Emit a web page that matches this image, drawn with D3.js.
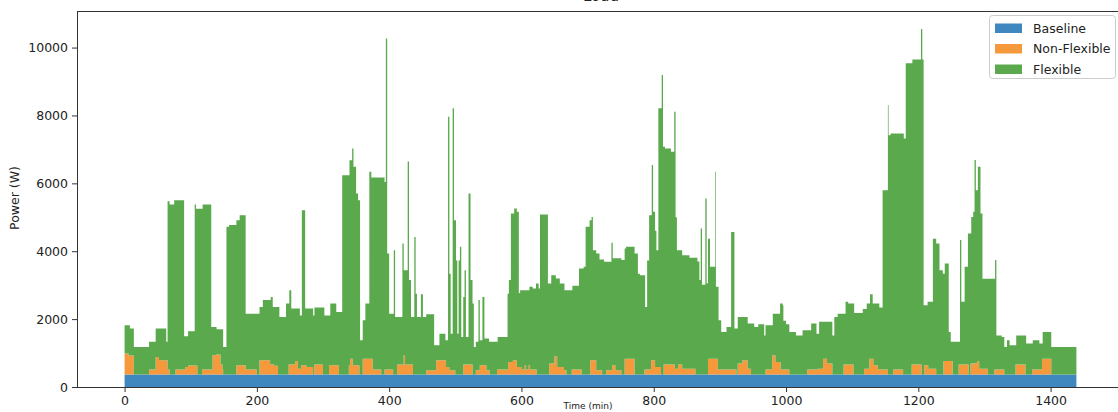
<!DOCTYPE html>
<html>
<head>
<meta charset="utf-8">
<script src="https://cdn.jsdelivr.net/npm/d3@7"></script>
<style>
  body { margin: 0; background: #fff; }
  text { font-family: "DejaVu Sans", sans-serif; }
</style>
</head>
<body>
<svg id="chart" width="1118" height="412"></svg>
<script>
// series names + colours (stack order, bottom first)
var seriesNames = ["Baseline", "Non-Flexible", "Flexible"];
var seriesColors = ["#3f88bf", "#f6993d", "#5aa94c"];

var lastMinute = 1439;
var xTicks = [0, 200, 400, 600, 800, 1000, 1200, 1400];
var yTicks = [0, 2000, 4000, 6000, 8000, 10000];

// [start minute, watts] - value holds until the next step
var baselineSteps = [[0, 365]];

var nonFlexSteps = [
  [0, 620], [6, 560], [14, 0], [37, 150], [47, 520], [52, 420], [65, 150], [68, 0],
  [77, 150], [92, 225], [96, 270], [110, 0], [117, 150], [133, 570], [138, 590], [145, 300],
  [148, 150], [149, 0], [169, 275], [183, 150], [200, 0], [204, 420], [220, 300], [226, 260],
  [232, 0], [248, 300], [258, 400], [262, 175], [267, 275], [275, 225], [285, 0], [287, 300],
  [300, 0], [309, 275], [324, 0], [339, 275], [341, 470], [345, 275], [355, 0], [360, 470],
  [375, 150], [388, 0], [393, 150], [406, 0], [412, 300], [422, 570], [424, 300], [436, 0],
  [456, 130], [471, 420], [486, 225], [491, 130], [500, 0], [512, 300], [526, 0], [531, 130],
  [537, 275], [547, 130], [552, 0], [563, 150], [580, 375], [587, 420], [593, 225], [600, 150],
  [605, 275], [607, 150], [611, 275], [613, 150], [623, 0], [642, 325], [650, 540], [654, 225],
  [664, 130], [668, 0], [676, 150], [691, 0], [704, 420], [713, 130], [722, 0], [728, 130],
  [737, 275], [742, 130], [751, 0], [756, 470], [771, 0], [786, 150], [796, 420], [802, 225],
  [811, 0], [815, 300], [832, 175], [837, 300], [843, 175], [863, 0], [882, 470], [897, 150],
  [925, 0], [927, 325], [934, 420], [942, 175], [947, 0], [969, 150], [979, 570], [984, 375],
  [992, 150], [1005, 0], [1032, 150], [1048, 175], [1056, 470], [1062, 325], [1070, 0],
  [1087, 300], [1102, 0], [1118, 175], [1126, 470], [1132, 275], [1139, 150], [1154, 0],
  [1162, 150], [1177, 0], [1190, 300], [1205, 0], [1209, 275], [1215, 175], [1227, 0],
  [1238, 400], [1252, 0], [1261, 300], [1276, 0], [1279, 325], [1289, 400], [1292, 175],
  [1305, 0], [1315, 150], [1330, 0], [1347, 300], [1362, 0], [1372, 150], [1387, 470], [1401, 0]
];

// upper edge of the whole stack; Flexible = this minus the two below
var totalSteps = [
  [0, 1820], [8, 1720], [14, 1180], [37, 1330], [47, 1720], [63, 1330], [65, 5475], [68, 5380],
  [75, 5500], [90, 1495], [96, 1640], [106, 5380], [108, 5250], [118, 5380], [131, 1770],
  [139, 1700], [149, 1180], [154, 4720], [158, 4770], [169, 4910], [174, 5060], [183, 2160],
  [204, 2360], [209, 2560], [221, 2650], [224, 2360], [234, 2060], [244, 2460], [249, 2850],
  [252, 2310], [265, 2110], [268, 5210], [273, 2310], [285, 2110], [287, 2340], [302, 2110],
  [311, 2460], [320, 2210], [329, 6240], [340, 6680], [344, 7030], [346, 6490], [350, 5700],
  [353, 5500], [356, 1380], [360, 1970], [364, 2460], [370, 6340], [373, 6170], [393, 6040],
  [395, 10270], [397, 3930], [400, 2160], [407, 4030], [409, 2060], [420, 4230], [422, 3440],
  [428, 6640], [430, 3150], [433, 2060], [438, 4420], [440, 2750], [442, 2060], [448, 2730],
  [451, 2060], [456, 2140], [468, 1230], [476, 1570], [485, 1380], [489, 7960], [491, 3340],
  [493, 1570], [496, 8210], [498, 4910], [501, 3730], [503, 1570], [505, 3730], [507, 4130],
  [509, 1470], [512, 2650], [514, 3440], [516, 1470], [520, 5700], [523, 3150], [526, 2460],
  [528, 1180], [531, 1330], [535, 2560], [537, 1380], [541, 2650], [544, 1430], [551, 1330],
  [564, 1470], [579, 2750], [581, 3150], [584, 5110], [589, 5260], [593, 5160], [596, 2770],
  [598, 2850], [612, 2950], [617, 2900], [622, 3050], [626, 2900], [628, 5080], [640, 3050],
  [645, 3290], [652, 3200], [658, 3050], [665, 2850], [677, 2980], [687, 3490], [694, 3540],
  [697, 4720], [703, 4910], [706, 5010], [708, 4030], [713, 3930], [718, 3760], [725, 3690],
  [736, 4250], [738, 3790], [751, 3740], [756, 4080], [758, 4130], [771, 3930], [776, 3340],
  [779, 3290], [787, 2360], [790, 3730], [793, 5060], [797, 6540], [799, 5160], [802, 4600],
  [804, 4030], [807, 8210], [812, 9190], [814, 7080], [817, 7030], [826, 6930], [831, 8110],
  [833, 5000], [835, 4030], [843, 3880], [854, 3810], [866, 3700], [869, 3150], [871, 4670],
  [873, 3010], [878, 5550], [880, 3060], [882, 4370], [885, 3540], [893, 6340], [894, 2950],
  [898, 1970], [902, 1620], [910, 1770], [917, 4570], [922, 1720], [927, 2060], [942, 1870],
  [952, 1770], [958, 1850], [967, 1520], [969, 1820], [980, 2160], [991, 2460], [995, 2410],
  [996, 1950], [1000, 1850], [1005, 1620], [1015, 1520], [1025, 1670], [1038, 1870],
  [1046, 1570], [1050, 1920], [1070, 1520], [1073, 2060], [1078, 2160], [1090, 2510],
  [1094, 2460], [1103, 2180], [1116, 2300], [1122, 2460], [1127, 2730], [1131, 2460],
  [1141, 2340], [1146, 5800], [1154, 8310], [1155, 7420], [1158, 7470], [1178, 7320],
  [1181, 9540], [1191, 9650], [1204, 10550], [1206, 9650], [1208, 2410], [1214, 2510],
  [1222, 4370], [1227, 4230], [1232, 3440], [1237, 3340], [1240, 3640], [1246, 1620],
  [1249, 1330], [1263, 4330], [1265, 2510], [1270, 3540], [1275, 4520], [1280, 5010],
  [1283, 5160], [1285, 6690], [1287, 5800], [1290, 6490], [1294, 5110], [1297, 3190],
  [1316, 3740], [1318, 1520], [1326, 1470], [1330, 1180], [1334, 1380], [1338, 1230],
  [1348, 1520], [1363, 1280], [1373, 1380], [1383, 1280], [1388, 1620], [1401, 1180]
];

function valueAt(steps, t) {
    var v = steps[0][1];
    for (var i = 0; i < steps.length; i++) {
        if (steps[i][0] <= t) { v = steps[i][1]; } else { break; }
    }
    return v;
}

// one row per breakpoint of any series
var minutes = d3.union(
    baselineSteps.map(function (d) { return d[0]; }),
    nonFlexSteps.map(function (d) { return d[0]; }),
    totalSteps.map(function (d) { return d[0]; }),
    [lastMinute]);
minutes = Array.from(minutes).sort(d3.ascending);

var rows = minutes.map(function (t) {
    var base = valueAt(baselineSteps, t);
    var nonFlex = valueAt(nonFlexSteps, t);
    var total = valueAt(totalSteps, t);
    var row = { t: t };
    row["Baseline"] = base;
    row["Non-Flexible"] = nonFlex;
    row["Flexible"] = Math.max(0, total - base - nonFlex);
    return row;
});

var svg = d3.select("#chart");
var plotLeft = 77, plotRight = 1124, plotTop = 11, plotBottom = 387;

var pad = lastMinute * 0.05;
var x = d3.scaleLinear().domain([-pad, lastMinute + pad]).range([plotLeft, plotRight]);
var yMax = d3.max(totalSteps, function (d) { return d[1]; }) * 1.05;
var y = d3.scaleLinear().domain([0, yMax]).range([plotBottom, plotTop]);

var stacked = d3.stack().keys(seriesNames)(rows);

var area = d3.area()
    .curve(d3.curveStepAfter)
    .x(function (d) { return x(d.data.t); })
    .y0(function (d) { return y(d[0]); })
    .y1(function (d) { return y(d[1]); });

svg.append("g").selectAll("path")
    .data(stacked)
    .enter().append("path")
    .attr("d", area)
    .attr("fill", function (d, i) { return seriesColors[i]; });

// axes
var xAxis = svg.append("g")
    .attr("transform", "translate(0," + plotBottom + ")")
    .call(d3.axisBottom(x).tickValues(xTicks).tickSize(5).tickPadding(4).tickFormat(d3.format("d")));
var yAxis = svg.append("g")
    .attr("transform", "translate(" + plotLeft + ",0)")
    .call(d3.axisLeft(y).tickValues(yTicks).tickSize(5).tickPadding(4).tickFormat(d3.format("d")));
[xAxis, yAxis].forEach(function (a) {
    a.select(".domain").remove();
    a.selectAll("text").style("font-size", "12.5px").attr("fill", "#222");
    a.selectAll("line").attr("stroke", "#333");
});

// spines
svg.append("line").attr("x1", plotLeft + 0.5).attr("x2", plotLeft + 0.5).attr("y1", plotTop).attr("y2", plotBottom)
    .attr("stroke", "#333");
svg.append("line").attr("x1", plotLeft).attr("x2", 1118).attr("y1", plotBottom + 0.5).attr("y2", plotBottom + 0.5)
    .attr("stroke", "#333");
svg.append("line").attr("x1", plotLeft).attr("x2", 1118).attr("y1", plotTop + 0.5).attr("y2", plotTop + 0.5)
    .attr("stroke", "#333");

// labels
svg.append("text").attr("x", 601).attr("y", 1).attr("text-anchor", "middle")
    .style("font-size", "15px").attr("fill", "#222").text("Load");
svg.append("text").attr("x", 588).attr("y", 409).attr("text-anchor", "middle")
    .style("font-size", "9px").attr("fill", "#222").text("Time (min)");
svg.append("text").attr("transform", "translate(19,198) rotate(-90)").attr("text-anchor", "middle")
    .style("font-size", "12.5px").attr("fill", "#222").text("Power (W)");

// legend
var legend = svg.append("g");
legend.append("rect").attr("x", 989.5).attr("y", 15.5).attr("width", 126).attr("height", 63)
    .attr("rx", 3).attr("fill", "#fff").attr("fill-opacity", 0.8).attr("stroke", "#ccc");
seriesNames.forEach(function (name, i) {
    legend.append("rect").attr("x", 995).attr("y", 23.5 + i * 20.5).attr("width", 27).attr("height", 9.5)
        .attr("fill", seriesColors[i]);
    legend.append("text").attr("x", 1033).attr("y", 32.5 + i * 20.5)
        .style("font-size", "12.5px").attr("fill", "#222").text(name);
});
</script>
</body>
</html>
